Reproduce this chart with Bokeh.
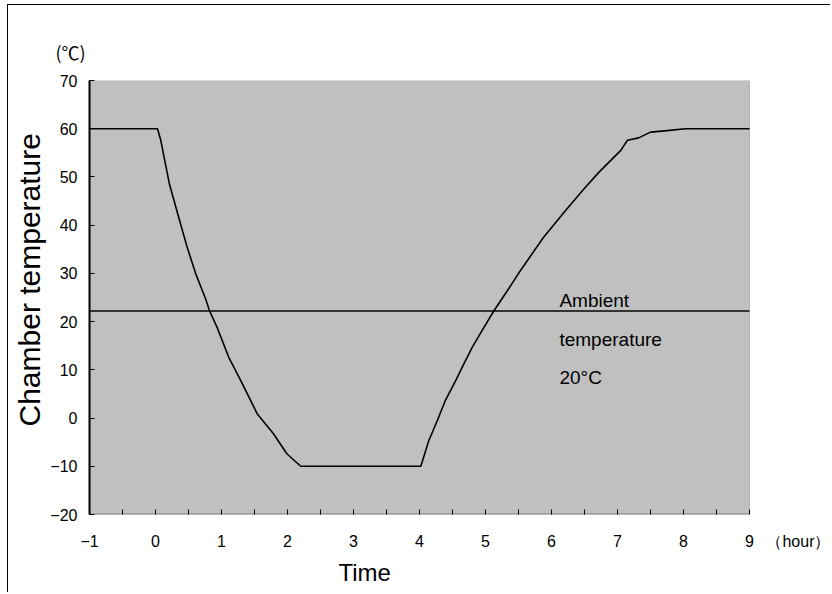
from bokeh.plotting import figure
from bokeh.models import (Range1d, FixedTicker, CustomJSTickFormatter, Label, Title,
                          BoxAnnotation)
from bokeh.embed import file_html
from bokeh.resources import INLINE

# ---- data ----
time_h = [-1, 0.03, 0.08, 0.15, 0.21, 0.35, 0.48, 0.61, 0.76, 0.82, 0.93, 1.11, 1.29,
          1.54, 1.79, 1.99, 2.2, 4.02, 4.14, 4.27, 4.39, 4.55, 4.67, 4.80, 4.95, 5.13,
          5.33, 5.43, 5.53, 5.88, 6.21, 6.49, 6.72, 7.05, 7.15, 7.32, 7.5, 7.75, 8.03, 9.0]
temp_c = [60, 60, 57.6, 52.7, 48.6, 41.7, 35.4, 29.9, 24.7, 22.2, 18.9, 12.6, 7.8,
          0.9, -3.3, -7.4, -10, -10, -4.7, -0.5, 3.6, 7.8, 11.2, 14.7, 18.2, 22.3,
          26.4, 28.5, 30.6, 37.5, 43.0, 47.5, 51.0, 55.5, 57.6, 58.1, 59.3, 59.6, 60.0, 60.0]
ambient_level = 22.2
x_ticks = [-1, 0, 1, 2, 3, 4, 5, 6, 7, 8, 9]
x_minor = [-0.5, 0.5, 1.5, 2.5, 3.5, 4.5, 5.5, 6.5, 7.5, 8.5]
x_unit_pos = 9.8          # where the "(hour)" unit text sits, in hours
x_unit_text = "（hour）"
y_ticks = [-20, -10, 0, 10, 20, 30, 40, 50, 60, 70]
ambient_lines = ["Ambient", "temperature", "20°C"]

x0, x1 = x_ticks[0], x_ticks[-1]
y0, y1 = y_ticks[0], y_ticks[-1]

p = figure(width=823, height=588, output_backend="svg", toolbar_location=None,
           x_range=Range1d(x0, 10.242), y_range=Range1d(y0, y1),
           min_border_left=81, min_border_top=75, min_border_right=0, min_border_bottom=79,
           background_fill_color="white", border_fill_color="white",
           styles={"border-left": "1px solid #000", "border-top": "1px solid #000",
                   "margin-left": "7px", "margin-top": "4px"})
p.xgrid.visible = False
p.ygrid.visible = False
p.outline_line_color = None

# plot area (grey box with thin dark outline) and the bottom axis line
p.add_layout(BoxAnnotation(left=x0, right=x1, bottom=y0, top=y1, fill_color="#C0C0C0",
                           fill_alpha=1, line_color="#555555", line_width=1, level="underlay"))
p.add_layout(BoxAnnotation(left=x0, right=x1, bottom=y0, top=y0, fill_alpha=0,
                           line_color="black", line_width=2, level="underlay"))

fmt_x = CustomJSTickFormatter(args=dict(unit=x_unit_text, upos=x_unit_pos),
                              code="if (Math.abs(tick - upos) < 1e-6) return unit;"
                                   "return tick < 0 ? '\u2212' + Math.abs(tick) : tick.toString();")
fmt_y = CustomJSTickFormatter(code="return tick < 0 ? '\u2212' + Math.abs(tick) : tick.toString();")

xa = p.xaxis[0]
xa.ticker = FixedTicker(ticks=x_ticks + [x_unit_pos], minor_ticks=sorted(x_ticks + x_minor))
xa.formatter = fmt_x
xa.axis_line_color = None
xa.major_tick_line_color = None
xa.minor_tick_in = 5
xa.minor_tick_out = 0
xa.minor_tick_line_color = "black"
xa.major_label_standoff = 12

ya = p.yaxis[0]
ya.ticker = FixedTicker(ticks=y_ticks)
ya.formatter = fmt_y
ya.axis_line_color = "black"
ya.axis_line_width = 2
ya.major_tick_in = 5
ya.major_tick_out = 0
ya.major_tick_line_color = "black"
ya.minor_tick_line_color = None
ya.major_label_standoff = 12

for ax in (xa, ya):
    ax.major_label_text_font = "Liberation Sans"
    ax.major_label_text_font_size = "16px"
    ax.major_label_text_color = "black"

p.add_layout(Title(text="Chamber temperature", align="left", offset=88, standoff=3,
                   text_font="Liberation Sans", text_font_size="30px",
                   text_font_style="normal", text_color="black"), "left")
p.add_layout(Title(text="Time", align="left", offset=249, standoff=8,
                   text_font="Liberation Sans", text_font_size="24px",
                   text_font_style="normal", text_color="black"), "below")
p.add_layout(Title(text="(℃)", align="left", offset=-34, standoff=31,
                   text_font="Noto Sans CJK JP", text_font_size="18px",
                   text_font_style="normal", text_color="black"), "above")

p.segment(x0=[x0], x1=[x1], y0=[ambient_level], y1=[ambient_level],
          line_color="#333333", line_width=2)
p.line(time_h, temp_c, line_color="black", line_width=1.6)

# ambient text
for txt, yv in zip(ambient_lines, [24.4, 16.3, 8.4]):
    p.add_layout(Label(x=6.12, y=yv, text=txt, text_font="Liberation Sans",
                       text_font_size="19px", text_baseline="alphabetic", text_align="left",
                       text_color="black"))

open("out.html", "w").write(file_html(p, INLINE))
